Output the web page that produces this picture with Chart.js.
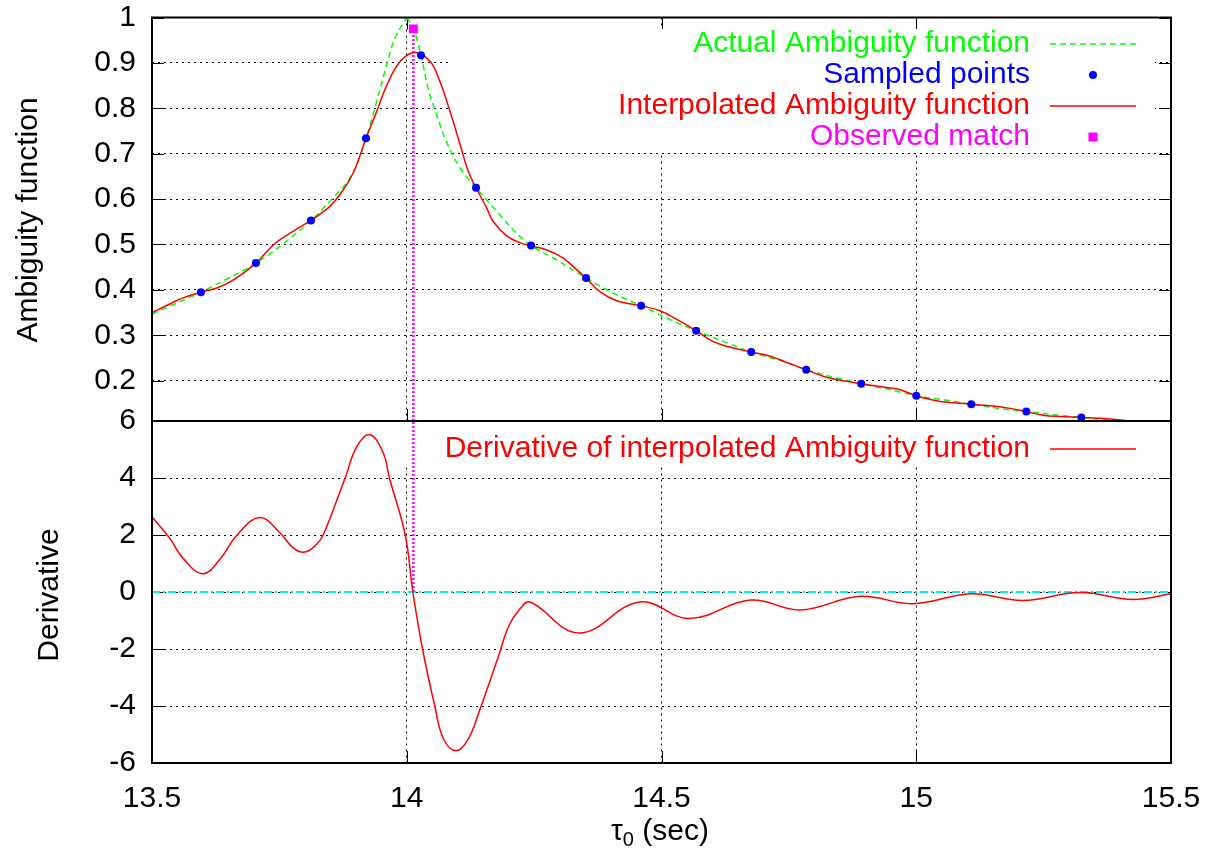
<!DOCTYPE html>
<html>
<head>
<meta charset="utf-8">
<script src="https://cdn.jsdelivr.net/npm/chart.js@4.4.0/dist/chart.umd.min.js"></script>
<style>
  html, body { margin: 0; padding: 0; background: #fff; }
  #wrap { width: 1220px; height: 858px; }
</style>
</head>
<body>
<div id="wrap"><canvas id="plot" width="1220" height="858"></canvas></div>
<script>
// ---- data ----
const xTicks = [13.5, 14, 14.5, 15, 15.5];
const xTickLabels = ['13.5', '14', '14.5', '15', '15.5'];
const ambTicks = [0.2, 0.3, 0.4, 0.5, 0.6, 0.7, 0.8, 0.9, 1];
const ambTickLabels = ['0.2', '0.3', '0.4', '0.5', '0.6', '0.7', '0.8', '0.9', '1'];
const derTicks = [-6, -4, -2, 0, 2, 4, 6];
const derTickLabels = ['-6', '-4', '-2', '0', '2', '4', '6'];
const AMB_MIN = 0.1112;

// actual ambiguity function (green), split at the cusp
const actualLeftX = [13.5, 13.596, 13.647, 13.704, 13.758, 13.812, 13.849, 13.892, 13.92, 13.941, 13.957, 13.977, 14.0];
const actualLeftY = [0.347, 0.395, 0.424, 0.459, 0.502, 0.553, 0.595, 0.653, 0.734, 0.815, 0.881, 0.955, 1.0];
const actualRightX = [14.0, 14.013, 14.028, 14.042, 14.059, 14.078, 14.105, 14.136, 14.183, 14.209, 14.244, 14.294, 14.352, 14.405, 14.46, 14.514, 14.568, 14.634, 14.676, 14.746, 14.784, 14.892, 14.942, 15.0, 15.06, 15.108, 15.175, 15.216, 15.295, 15.324, 15.40];
const actualRightY = [1.0, 0.975, 0.917, 0.844, 0.785, 0.726, 0.668, 0.625, 0.565, 0.532, 0.498, 0.466, 0.426, 0.393, 0.365, 0.336, 0.310, 0.281, 0.263, 0.240, 0.224, 0.193, 0.182, 0.167, 0.157, 0.148, 0.137, 0.132, 0.122, 0.119, 0.1115];

// sampled points (blue)
const sampleX = [13.596, 13.704, 13.812, 13.920, 14.028, 14.136, 14.244, 14.352, 14.460, 14.568, 14.676, 14.784, 14.892, 15.000, 15.108, 15.216, 15.324];
const sampleY = [0.395, 0.459, 0.553, 0.734, 0.917, 0.625, 0.498, 0.426, 0.365, 0.310, 0.263, 0.224, 0.193, 0.167, 0.148, 0.132, 0.119];

// interpolated ambiguity function (red)
const interpX = [13.5, 13.535, 13.562, 13.596, 13.627, 13.66, 13.704, 13.738, 13.771, 13.812, 13.83, 13.849, 13.869, 13.895, 13.92, 13.941, 13.961, 13.987, 14.016, 14.046, 14.065, 14.085, 14.105, 14.121, 14.136, 14.157, 14.17, 14.196, 14.222, 14.244, 14.275, 14.307, 14.334, 14.352, 14.379, 14.412, 14.46, 14.497, 14.53, 14.568, 14.602, 14.634, 14.676, 14.713, 14.746, 14.784, 14.824, 14.857, 14.892, 14.942, 14.968, 15.0, 15.047, 15.079, 15.108, 15.151, 15.184, 15.216, 15.249, 15.282, 15.324, 15.374, 15.416];
const interpY = [0.350, 0.369, 0.383, 0.395, 0.404, 0.422, 0.459, 0.499, 0.525, 0.553, 0.567, 0.584, 0.610, 0.658, 0.734, 0.793, 0.851, 0.903, 0.923, 0.903, 0.859, 0.793, 0.719, 0.660, 0.625, 0.580, 0.550, 0.519, 0.504, 0.497, 0.488, 0.470, 0.444, 0.426, 0.396, 0.376, 0.365, 0.354, 0.335, 0.310, 0.286, 0.274, 0.263, 0.254, 0.240, 0.224, 0.2075, 0.200, 0.193, 0.185, 0.180, 0.167, 0.154, 0.151, 0.148, 0.144, 0.139, 0.132, 0.124, 0.121, 0.119, 0.116, 0.1115];

// observed match (magenta)
const matchX = 14.013;
const matchY = 0.975;

// derivative of interpolated function (red, lower panel)
const derivX = [13.5, 13.535, 13.561, 13.5995, 13.633, 13.667, 13.711, 13.751, 13.777, 13.800, 13.823, 13.836, 13.879, 13.902, 13.928, 13.954, 13.966, 13.997, 14.012, 14.031, 14.055, 14.072, 14.097, 14.121, 14.142, 14.181, 14.20, 14.222, 14.242, 14.338, 14.457, 14.555, 14.675, 14.773, 14.890, 14.993, 15.108, 15.209, 15.321, 15.426, 15.5];
const derivY = [2.64, 1.88, 1.18, 0.64, 1.14, 2.0, 2.61, 2.08, 1.55, 1.40, 1.67, 2.0, 4.0, 5.10, 5.52, 4.87, 4.0, 2.0, 0, -2.0, -4.0, -5.15, -5.57, -5.15, -4.2, -2.2, -1.2, -0.6, -0.35, -1.44, -0.35, -0.93, -0.28, -0.63, -0.15, -0.41, -0.06, -0.30, -0.02, -0.26, -0.06];

const zip = (xs, ys) => xs.map((x, i) => ({ x: x, y: ys[i] }));

const FONT = '"Liberation Sans", Arial, sans-serif';
const GREEN = '#00ff00', BLUE = '#0000ff', RED = '#ff0000', MAGENTA = '#ff00ff', CYAN = '#00f0f0';

// gnuplot-like frame, inward ticks, opaque keys and axis titles
const gnuplotLook = {
    id: 'gnuplotLook',
    beforeDatasetsDraw(chart) {
        const ctx = chart.ctx;
        const x = chart.scales.x, ya = chart.scales.yA, yd = chart.scales.yD;
        const left = x.left, right = x.right;
        ctx.save();
        ctx.strokeStyle = '#000';
        ctx.lineWidth = 1;
        const tic = 12;
        ctx.beginPath();
        xTicks.forEach(v => {
            const px = Math.round(x.getPixelForValue(v)) + 0.5;
            [[ya.top, 1], [ya.bottom, -1], [yd.top, 1], [yd.bottom, -1]].forEach(([py, dir]) => {
                ctx.moveTo(px, py); ctx.lineTo(px, py + dir * tic);
            });
        });
        [[ya, ambTicks], [yd, derTicks]].forEach(([sc, vals]) => {
            vals.forEach(v => {
                const py = Math.round(sc.getPixelForValue(v)) + 0.5;
                ctx.moveTo(left, py); ctx.lineTo(left + tic, py);
                ctx.moveTo(right, py); ctx.lineTo(right - tic, py);
            });
        });
        ctx.stroke();
        // opaque key areas
        ctx.fillStyle = '#fff';
        ctx.fillRect(448, ya.top + 11.5, 1155 - 448, 124);
        ctx.fillRect(398, yd.top + 1, 1155 - 398, 45);
        ctx.restore();
    },
    afterDatasetsDraw(chart) {
        const ctx = chart.ctx;
        const x = chart.scales.x, ya = chart.scales.yA, yd = chart.scales.yD;
        ctx.save();
        // border
        ctx.strokeStyle = '#000';
        ctx.lineWidth = 2;
        ctx.strokeRect(x.left, ya.top, x.right - x.left, yd.bottom - ya.top);
        ctx.beginPath();
        ctx.moveTo(x.left, ya.bottom); ctx.lineTo(x.right, ya.bottom);
        ctx.stroke();

        // keys
        ctx.font = '30px ' + FONT;
        ctx.textAlign = 'right';
        ctx.textBaseline = 'middle';
        const tx = 1030, s0 = 1050, s1 = 1136, sm = 1093;
        const rows = [
            { t: 'Actual Ambiguity function', c: GREEN, y: 44 },
            { t: 'Sampled points', c: BLUE, y: 75 },
            { t: 'Interpolated Ambiguity function', c: RED, y: 106 },
            { t: 'Observed match', c: MAGENTA, y: 137 },
            { t: 'Derivative of interpolated Ambiguity function', c: RED, y: 449 }
        ];
        rows.forEach(r => { ctx.fillStyle = r.c; ctx.fillText(r.t, tx, r.y); });
        ctx.lineWidth = 1.5;
        ctx.strokeStyle = GREEN;
        ctx.setLineDash([6, 4]);
        ctx.beginPath(); ctx.moveTo(s0, 44); ctx.lineTo(s1, 44); ctx.stroke();
        ctx.setLineDash([]);
        ctx.strokeStyle = RED;
        ctx.beginPath(); ctx.moveTo(s0, 106); ctx.lineTo(s1, 106); ctx.stroke();
        ctx.beginPath(); ctx.moveTo(s0, 449); ctx.lineTo(s1, 449); ctx.stroke();
        ctx.fillStyle = BLUE;
        ctx.beginPath(); ctx.arc(sm, 75, 4, 0, Math.PI * 2); ctx.fill();
        ctx.fillStyle = MAGENTA;
        ctx.fillRect(sm - 4.5, 137 - 4.5, 9, 9);

        // axis titles
        ctx.fillStyle = '#000';
        ctx.textAlign = 'center';
        ctx.save();
        ctx.translate(29, 220); ctx.rotate(-Math.PI / 2);
        ctx.fillText('Ambiguity function', 0, 0);
        ctx.restore();
        ctx.save();
        ctx.translate(50, 595); ctx.rotate(-Math.PI / 2);
        ctx.fillText('Derivative', 0, 0);
        ctx.restore();

        // tau_0 (sec)
        const main = '30px ' + FONT, sub = '20px ' + FONT;
        ctx.textAlign = 'left';
        ctx.font = main; const wTau = ctx.measureText('\u03c4').width;
        ctx.font = sub; const wSub = ctx.measureText('0').width;
        ctx.font = main; const wRest = ctx.measureText(' (sec)').width;
        let cx = 660 - (wTau + wSub + wRest) / 2;
        const cy = 832;
        ctx.fillText('\u03c4', cx, cy); cx += wTau;
        ctx.font = sub; ctx.fillText('0', cx, cy + 8); cx += wSub;
        ctx.font = main; ctx.fillText(' (sec)', cx, cy);
        ctx.restore();
    }
};

const tickFont = { family: FONT, size: 30 };
const TENSION = 0.4;

// fixed axis box; top padding keeps the plot top at 17.5px like the reference
function fitY(s) {
    s.width = 152;
    s.paddingTop = 17.5;
    s.paddingBottom = 0;
}

new Chart(document.getElementById('plot'), {
    type: 'line',
    data: {
        datasets: [
            { data: zip(sampleX, sampleY), yAxisID: 'yA', showLine: false, pointRadius: 4, pointBorderWidth: 0, pointBackgroundColor: BLUE, order: 0 },
            { data: [{ x: matchX, y: matchY }], yAxisID: 'yA', showLine: false, pointStyle: 'rect', pointRadius: 6.3, pointBorderWidth: 0, pointBackgroundColor: MAGENTA, order: 1 },
            { data: zip(interpX, interpY), yAxisID: 'yA', borderColor: RED, borderWidth: 1.5, pointRadius: 0, tension: TENSION, order: 2 },
            { data: zip(actualLeftX, actualLeftY), yAxisID: 'yA', borderColor: GREEN, borderWidth: 1.5, borderDash: [6, 4], pointRadius: 0, tension: TENSION, order: 3 },
            { data: zip(actualRightX, actualRightY), yAxisID: 'yA', borderColor: GREEN, borderWidth: 1.5, borderDash: [6, 4], pointRadius: 0, tension: TENSION, order: 3 },
            { data: [{ x: matchX, y: AMB_MIN }, { x: matchX, y: matchY }], yAxisID: 'yA', borderColor: MAGENTA, borderWidth: 2.5, borderDash: [2, 2], pointRadius: 0, order: 4 },
            { data: zip(derivX, derivY), yAxisID: 'yD', borderColor: RED, borderWidth: 1.5, pointRadius: 0, tension: TENSION, order: 2 },
            { data: [{ x: 13.5, y: 0 }, { x: 15.5, y: 0 }], yAxisID: 'yD', borderColor: CYAN, borderWidth: 2, borderDash: [8, 3, 2, 3], pointRadius: 0, order: 5 },
            { data: [{ x: matchX, y: 0 }, { x: matchX, y: 6 }], yAxisID: 'yD', borderColor: MAGENTA, borderWidth: 2.5, borderDash: [2, 2], pointRadius: 0, order: 4 }
        ]
    },
    options: {
        responsive: false,
        animation: false,
        devicePixelRatio: 1,
        events: [],
        layout: { padding: { top: 0, right: 49, left: 0, bottom: 0 } },
        plugins: { legend: { display: false }, tooltip: { enabled: false } },
        scales: {
            x: {
                type: 'linear', position: 'bottom', min: 13.5, max: 15.5,
                afterBuildTicks: s => { s.ticks = xTicks.map(v => ({ value: v })); },
                afterFit: s => { s.height = 95; },
                grid: { color: '#000', lineWidth: 1, drawTicks: false },
                border: { display: false, dash: [2, 4] },
                ticks: { font: tickFont, color: '#000', padding: 18, maxRotation: 0, autoSkip: false,
                         callback: (v, i) => xTickLabels[i] }
            },
            yA: {
                type: 'linear', position: 'left', stack: 'panels', stackWeight: 403.5, weight: 2,
                min: AMB_MIN, max: 1,
                afterBuildTicks: s => { s.ticks = ambTicks.map(v => ({ value: v })); },
                afterFit: fitY,
                grid: { color: '#000', lineWidth: 1, drawTicks: false },
                border: { display: false, dash: [2, 4] },
                ticks: { font: tickFont, color: '#000', padding: 16, autoSkip: false,
                         callback: (v, i) => ambTickLabels[i] }
            },
            yD: {
                type: 'linear', position: 'left', stack: 'panels', stackWeight: 342, weight: 1,
                min: -6, max: 6,
                afterBuildTicks: s => { s.ticks = derTicks.map(v => ({ value: v })); },
                afterFit: fitY,
                grid: { color: '#000', lineWidth: 1, drawTicks: false },
                border: { display: false, dash: [2, 4] },
                ticks: { font: tickFont, color: '#000', padding: 16, autoSkip: false,
                         callback: (v, i) => derTickLabels[i] }
            }
        }
    },
    plugins: [gnuplotLook]
});
</script>
</body>
</html>
